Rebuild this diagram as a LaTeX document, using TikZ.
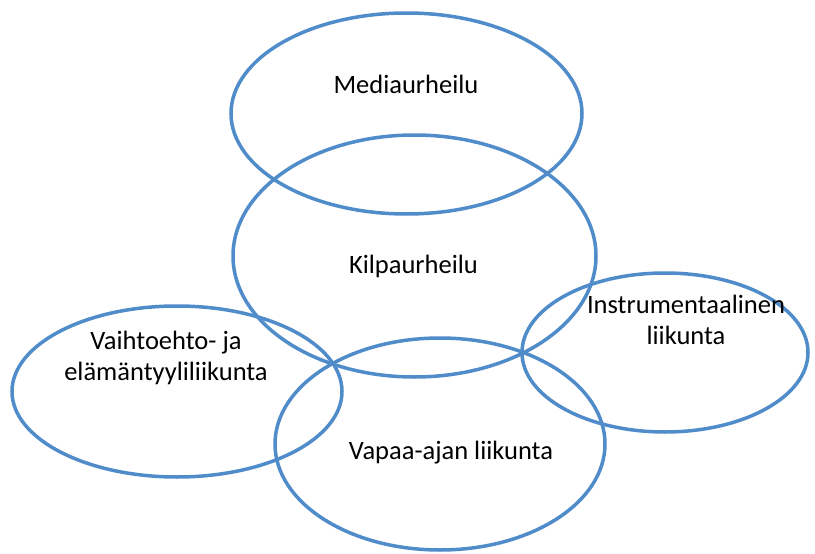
\documentclass[tikz,border=0pt]{standalone}
\usepackage{fontspec}
\setmainfont{Carlito}
\usetikzlibrary{shapes.geometric}
\definecolor{ringblue}{HTML}{4F8CC9}
\begin{document}
\begin{tikzpicture}[x=1pt,y=-1pt,
  ring/.style={ellipse, draw=ringblue, line width=3.5pt, inner sep=0pt, fill=none},
  lbl/.style={anchor=base, align=center, text=black,
    font=\fontsize{26.5}{31}\selectfont}]
  \useasboundingbox (0,0) rectangle (815,554);
  % overlapping category ellipses
  \node[ring, minimum width=351pt, minimum height=201pt] (media) at (406.5,113.5) {};
  \node[ring, minimum width=363pt, minimum height=242pt] (kilpa) at (414.5,256) {};
  \node[ring, minimum width=330pt, minimum height=171pt] (vaihto) at (177,391.5) {};
  \node[ring, minimum width=330pt, minimum height=212pt] (vapaa) at (440,444) {};
  \node[ring, minimum width=286pt, minimum height=159pt] (instr) at (665,352.5) {};
  % labels
  \node[lbl] (tmedia) at (406,93) {Mediaurheilu};
  \node[lbl] (tkilpa) at (413.5,273) {Kilpaurheilu};
  \node[lbl] (tvaihto) at (166,380) {Vaihtoehto- ja\\elämäntyyliliikunta};
  \node[lbl] (tvapaa) at (451,459) {Vapaa-ajan liikunta};
  \node[lbl] (tinstr) at (686,344) {Instrumentaalinen\\liikunta};
\end{tikzpicture}
\end{document}
